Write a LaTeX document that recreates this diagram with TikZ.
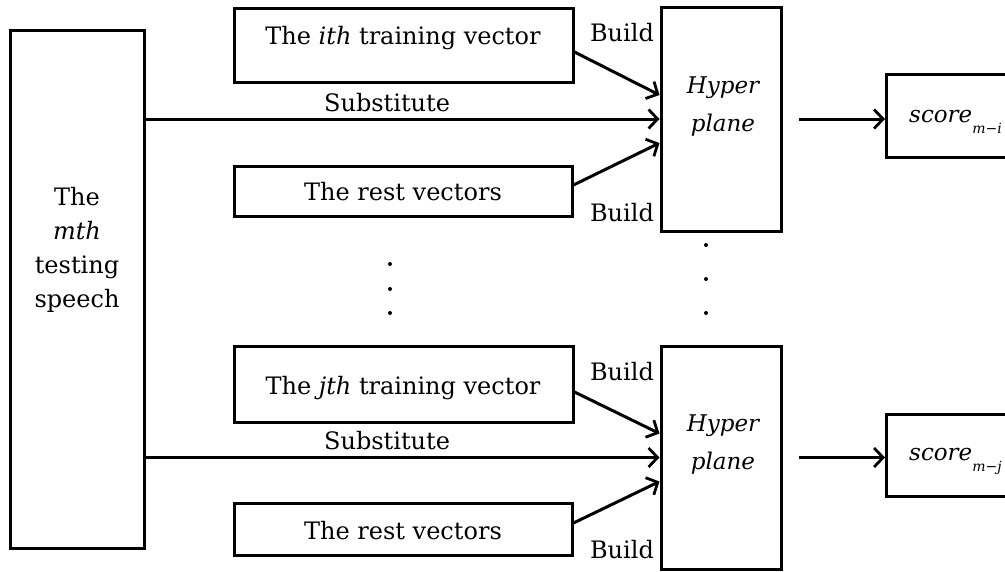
\documentclass[tikz,border=0pt]{standalone}
\usepackage{fontspec}
\setmainfont{DejaVu Serif}
\usetikzlibrary{arrows.meta,calc}

\tikzset{
  box/.style={draw, line width=3pt, inner sep=0pt},
  arr/.style={line width=3pt, -{Straight Barb[length=9pt,width=19pt,line width=2.8pt]}},
  lbl/.style={font=\fontsize{24}{30}\selectfont, inner sep=0pt},
  dotmark/.style={fill, circle, inner sep=0pt, minimum size=4pt}
}

\begin{document}
\begin{tikzpicture}[x=1pt, y=-1pt]

    \useasboundingbox (0,0) rectangle (1005,571);

    % Testing speech
    \node[box, minimum width=134, minimum height=518] (speech) at (77,289) {};
    \node[lbl, align=center, font=\fontsize{24}{34}\selectfont] (speechtxt) at (77,250)
        {The\\ \textit{mth}\\ testing\\ speech};

    %% First block

    % Training vectors
    \node[box, minimum width=339, minimum height=74] (traini) at (403.5,45) {};
    \node[lbl] (trainitxt) at (403,38) {The \textit{ith} training vector};
    \node[box, minimum width=338, minimum height=50] (resti) at (403,191) {};
    \node[lbl] (restitxt) at (403,192) {The rest vectors};

    % Hyper plane and score
    \node[box, minimum width=120, minimum height=224] (hypi) at (721,119) {};
    \node[lbl, align=center, font=\fontsize{23}{38}\selectfont\itshape] (hypitxt) at (723,107) {Hyper\\ plane};
    \node[box, minimum width=140, minimum height=83, anchor=west] (scorei) at (885,116) {};
    \node[lbl, anchor=west, font=\fontsize{23}{28}\selectfont] (scoreitxt) at (909,122)
        {\textit{score}\raisebox{-11pt}{\fontsize{14}{14}\selectfont\textit{m}−\textit{i}}};

    % Arrows
    \draw[arr] (speech.east |- hypi.west) -- (hypi.west)
        node[lbl, pos=0.47, above=6pt] (subi) {Substitute};
    \draw[arr] ([yshift=-7pt]traini.east) -- ([yshift=24pt]hypi.west);
    \draw[arr] ([yshift=6pt]resti.east) -- ([yshift=-24pt]hypi.west);
    \draw[arr] ([xshift=16pt]hypi.east) -- (scorei.west |- hypi.east);
    \node[lbl] (buildia) at (622,33) {Build};
    \node[lbl] (buildib) at (622,213) {Build};

    %% Dots
    \foreach \yy in {264,289,313}
        \node[dotmark] at (390,\yy) {};
    \foreach \yy in {245,279,313}
        \node[dotmark] at (706,\yy) {};

    %% Second block

    % Training vectors
    \node[box, minimum width=339, minimum height=76] (trainj) at (403.5,384) {};
    \node[lbl] (trainjtxt) at (403,388) {The \textit{jth} training vector};
    \node[box, minimum width=338, minimum height=52] (restj) at (403,529) {};
    \node[lbl] (restjtxt) at (403,531) {The rest vectors};

    % Hyper plane and score
    \node[box, minimum width=120, minimum height=223] (hypj) at (721,457.5) {};
    \node[lbl, align=center, font=\fontsize{23}{38}\selectfont\itshape] (hypjtxt) at (723,445) {Hyper\\ plane};
    \node[box, minimum width=140, minimum height=82, anchor=west] (scorej) at (885,455) {};
    \node[lbl, anchor=west, font=\fontsize{23}{28}\selectfont] (scorejtxt) at (909,461)
        {\textit{score}\raisebox{-11pt}{\fontsize{14}{14}\selectfont\textit{m}−\textit{j}}};

    % Arrows
    \draw[arr] (speech.east |- hypj.west) -- (hypj.west)
        node[lbl, pos=0.47, above=6pt] (subj) {Substitute};
    \draw[arr] ([yshift=-8pt]trainj.east) -- ([yshift=24pt]hypj.west);
    \draw[arr] ([yshift=6pt]restj.east) -- ([yshift=-24pt]hypj.west);
    \draw[arr] ([xshift=16pt]hypj.east) -- (scorej.west |- hypj.east);
    \node[lbl] (buildja) at (622,372) {Build};
    \node[lbl] (buildjb) at (622,550) {Build};

\end{tikzpicture}
\end{document}
